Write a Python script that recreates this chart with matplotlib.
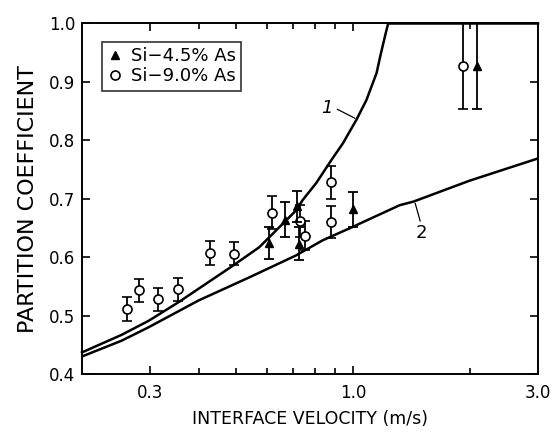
import matplotlib
matplotlib.use("Agg")
import matplotlib.pyplot as plt
from matplotlib.lines import Line2D
from matplotlib.ticker import FixedLocator, NullFormatter, FixedFormatter

# ---- data ----
curve1_x = [0.20, 0.253, 0.297, 0.355, 0.489, 0.573, 0.608, 0.713, 0.742, 0.804,
            0.879, 0.942, 1.02, 1.083, 1.15, 1.173, 1.196, 1.215, 1.232, 3.0]
curve1_y = [0.437, 0.467, 0.491, 0.523, 0.585, 0.617, 0.634, 0.680, 0.698, 0.727,
            0.766, 0.795, 0.835, 0.869, 0.915, 0.941, 0.965, 0.984, 1.0, 1.0]

curve2_x = [0.20, 0.253, 0.297, 0.400, 0.5425, 0.713, 0.836, 1.0, 1.061, 1.32,
            1.43, 2.0, 3.0]
curve2_y = [0.430, 0.457, 0.480, 0.526, 0.566, 0.603, 0.629, 0.652, 0.660, 0.689,
            0.695, 0.731, 0.769]

# Si-9.0% As (open circles)
si90_x = [0.262, 0.281, 0.315, 0.353, 0.428, 0.493, 0.617, 0.732, 0.754, 0.879, 0.879, 1.92]
si90_y = [0.511, 0.543, 0.528, 0.545, 0.607, 0.606, 0.676, 0.662, 0.637, 0.728, 0.660, 0.928]
si90_err = [0.020, 0.020, 0.020, 0.020, 0.020, 0.020, 0.028, 0.028, 0.025, 0.028, 0.028, 0.074]

# Si-4.5% As (filled triangles)
si45_x = [0.608, 0.668, 0.716, 0.727, 1.0, 2.09]
si45_y = [0.624, 0.664, 0.687, 0.623, 0.682, 0.927]
si45_err = [0.027, 0.030, 0.027, 0.028, 0.030, 0.073]

xticks_major = [0.3, 1.0, 3.0]
xtick_labels = ["0.3", "1.0", "3.0"]
xticks_minor = [0.4, 0.5, 0.6, 0.7, 0.8, 0.9, 2.0]
yticks = [0.4, 0.5, 0.6, 0.7, 0.8, 0.9, 1.0]
legend_labels = ["Si\u22124.5% As", "Si\u22129.0% As"]

# ---- figure ----
fig = plt.figure(figsize=(5.52, 4.36), dpi=100)
ax = fig.add_axes([82/552, 1 - 374/436, 456/552, 350.5/436])

ax.set_xscale("log")
ax.set_xlim(0.2, 3.0)
ax.set_ylim(0.4, 1.0)

ax.plot(curve1_x, curve1_y, color="black", lw=1.8, clip_on=False, zorder=3,
        solid_joinstyle="round")
ax.plot(curve2_x, curve2_y, color="black", lw=1.8, zorder=3,
        solid_joinstyle="round")

ax.errorbar(si90_x, si90_y, yerr=si90_err, fmt="o", mfc="white", mec="black",
            mew=1.2, ms=6.5, ecolor="black", elinewidth=1.3, capsize=3.5,
            capthick=1.3, zorder=4)
ax.errorbar(si45_x, si45_y, yerr=si45_err, fmt="^", mfc="black", mec="black",
            ms=5.5, ecolor="black", elinewidth=1.3, capsize=3.5, capthick=1.3,
            zorder=5)

# curve labels
ax.text(0.855, 0.856, "1", fontsize=13, style="italic", ha="center", va="center")
ax.plot([0.912, 1.01], [0.853, 0.838], color="black", lw=0.9)
ax.text(1.50, 0.642, "2", fontsize=13, ha="center", va="center")
ax.plot([1.447, 1.49], [0.692, 0.662], color="black", lw=0.9)

# ticks
ax.xaxis.set_major_locator(FixedLocator(xticks_major))
ax.xaxis.set_major_formatter(FixedFormatter(xtick_labels))
ax.xaxis.set_minor_locator(FixedLocator(xticks_minor))
ax.xaxis.set_minor_formatter(NullFormatter())
ax.set_yticks(yticks)
ax.set_yticklabels([f"{v:.1f}" for v in yticks])
ax.tick_params(which="both", direction="in", top=True, right=True, width=1.2,
               labelsize=12)
ax.tick_params(which="major", length=6)
ax.tick_params(which="minor", length=4.5)
ax.tick_params(axis="x", pad=7)
ax.tick_params(axis="y", pad=5)
for s in ax.spines.values():
    s.set_linewidth(1.4)

ax.set_xlabel("INTERFACE VELOCITY (m/s)", fontsize=12.5, labelpad=6)
ax.set_ylabel("PARTITION COEFFICIENT", fontsize=16, labelpad=8)

handles = [
    Line2D([], [], ls="none", marker="^", mfc="black", mec="black", ms=5.5),
    Line2D([], [], ls="none", marker="o", mfc="white", mec="black", mew=1.2, ms=6.5),
]
leg = ax.legend(handles, legend_labels, loc="upper left",
                bbox_to_anchor=(0.044, 0.947), borderaxespad=0, fontsize=13,
                frameon=True, fancybox=False, edgecolor="black",
                handlelength=0.8, handletextpad=0.5, borderpad=0.3,
                labelspacing=0.1)
leg.get_frame().set_linewidth(1.2)

fig.savefig("out.png", dpi=100)
